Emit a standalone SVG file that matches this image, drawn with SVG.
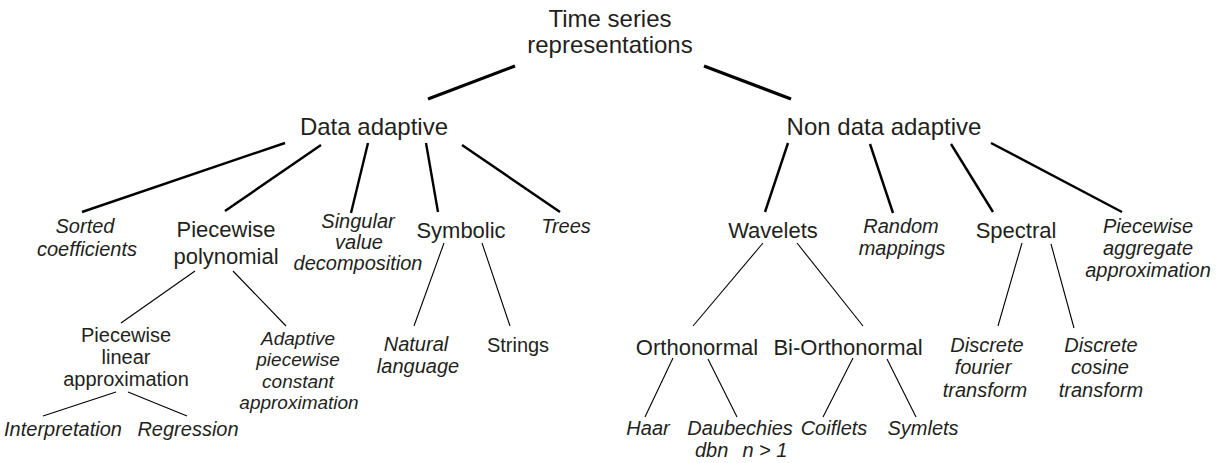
<svg xmlns="http://www.w3.org/2000/svg" width="1220" height="463" viewBox="0 0 1220 463">
<style>
text{font-family:"Liberation Sans",Arial,Helvetica,sans-serif;fill:#231f20;text-anchor:middle}
.t{font-size:24px}
.b{font-size:22px}
.m{font-size:20px}
.i{font-size:20px;font-style:italic}
.a{font-size:19px;font-style:italic}
.r{font-size:20px}
.l1{stroke:#000;stroke-width:3.2;stroke-linecap:butt}
.l2{stroke:#000;stroke-width:2.4}
.l3{stroke:#000;stroke-width:1.1}
</style>
<rect width="1220" height="463" fill="#fff"/>
<g id="connectors">
<line class="l1" x1="515" y1="66" x2="428" y2="99"/>
<line class="l1" x1="704" y1="66" x2="791" y2="99"/>
<line class="l2" x1="285" y1="143" x2="82" y2="212"/>
<line class="l2" x1="321" y1="145" x2="225" y2="211"/>
<line class="l2" x1="368" y1="143" x2="351" y2="213"/>
<line class="l2" x1="426" y1="143" x2="438" y2="212"/>
<line class="l2" x1="462" y1="145" x2="560" y2="212"/>
<line class="l2" x1="788" y1="143" x2="765" y2="212"/>
<line class="l2" x1="870" y1="144" x2="893" y2="213"/>
<line class="l2" x1="951" y1="144" x2="993" y2="212"/>
<line class="l2" x1="991" y1="143" x2="1122" y2="212"/>
<line class="l3" x1="195" y1="271" x2="121" y2="323"/>
<line class="l3" x1="233" y1="271" x2="286" y2="326"/>
<line class="l3" x1="116" y1="392" x2="43" y2="416"/>
<line class="l3" x1="128" y1="392" x2="187" y2="416"/>
<line class="l3" x1="444" y1="243" x2="414" y2="326"/>
<line class="l3" x1="482" y1="243" x2="510" y2="326"/>
<line class="l3" x1="763" y1="243" x2="693" y2="326"/>
<line class="l3" x1="797" y1="243" x2="863" y2="326"/>
<line class="l3" x1="673" y1="358" x2="645" y2="417"/>
<line class="l3" x1="708" y1="359" x2="737" y2="417"/>
<line class="l3" x1="853" y1="358" x2="823" y2="417"/>
<line class="l3" x1="887" y1="359" x2="916" y2="417"/>
<line class="l3" x1="1022" y1="243" x2="998" y2="326"/>
<line class="l3" x1="1051" y1="244" x2="1074" y2="328"/>
</g>
<g id="root"><text class="t" x="610" y="27">Time series</text><text class="t" x="610" y="53">representations</text></g>
<g id="data-adaptive"><text class="t" x="374" y="135">Data adaptive</text></g>
<g id="non-data-adaptive"><text class="t" x="884" y="135">Non data adaptive</text></g>
<g id="sorted"><text class="i" x="85" y="233">Sorted</text><text class="i" x="87" y="256">coefficients</text></g>
<g id="piecewise-polynomial"><text class="b" x="226" y="237">Piecewise</text><text class="b" x="226" y="264">polynomial</text></g>
<g id="svd"><text class="i" x="358" y="228">Singular</text><text class="i" x="359" y="249">value</text><text class="i" x="358" y="270">decomposition</text></g>
<g id="symbolic"><text class="b" x="461" y="238">Symbolic</text></g>
<g id="trees"><text class="i" x="566" y="233">Trees</text></g>
<g id="wavelets"><text class="b" x="773" y="238">Wavelets</text></g>
<g id="random"><text class="i" x="901" y="233">Random</text><text class="i" x="902" y="255">mappings</text></g>
<g id="spectral"><text class="b" x="1016" y="238">Spectral</text></g>
<g id="paa"><text class="i" x="1148" y="233">Piecewise</text><text class="i" x="1148" y="255">aggregate</text><text class="i" x="1148" y="277">approximation</text></g>
<g id="pla"><text class="m" x="126" y="342">Piecewise</text><text class="m" x="126" y="364">linear</text><text class="m" x="126" y="386">approximation</text></g>
<g id="apca"><text class="a" x="298" y="345">Adaptive</text><text class="a" x="298" y="366">piecewise</text><text class="a" x="298" y="388">constant</text><text class="a" x="299" y="409">approximation</text></g>
<g id="natural"><text class="i" x="416" y="351">Natural</text><text class="i" x="418" y="373">language</text></g>
<g id="strings"><text class="r" x="518" y="352">Strings</text></g>
<g id="orthonormal"><text class="b" x="697" y="355">Orthonormal</text></g>
<g id="bi-orthonormal"><text class="b" x="848" y="355">Bi-Orthonormal</text></g>
<g id="dft"><text class="i" x="987" y="352">Discrete</text><text class="i" x="983" y="374">fourier</text><text class="i" x="985" y="397">transform</text></g>
<g id="dct"><text class="i" x="1101" y="352">Discrete</text><text class="i" x="1100" y="374">cosine</text><text class="i" x="1101" y="397">transform</text></g>
<g id="interpretation"><text class="i" x="63" y="436">Interpretation</text></g>
<g id="regression"><text class="i" x="188" y="436">Regression</text></g>
<g id="haar"><text class="i" x="648" y="435">Haar</text></g>
<g id="daubechies"><text class="i" x="740" y="435">Daubechies</text><text class="i" x="695" y="457" style="text-anchor:start">dbn<tspan dx="14">n &gt; 1</tspan></text></g>
<g id="coiflets"><text class="i" x="834" y="435">Coiflets</text></g>
<g id="symlets"><text class="i" x="923" y="435">Symlets</text></g>
</svg>
